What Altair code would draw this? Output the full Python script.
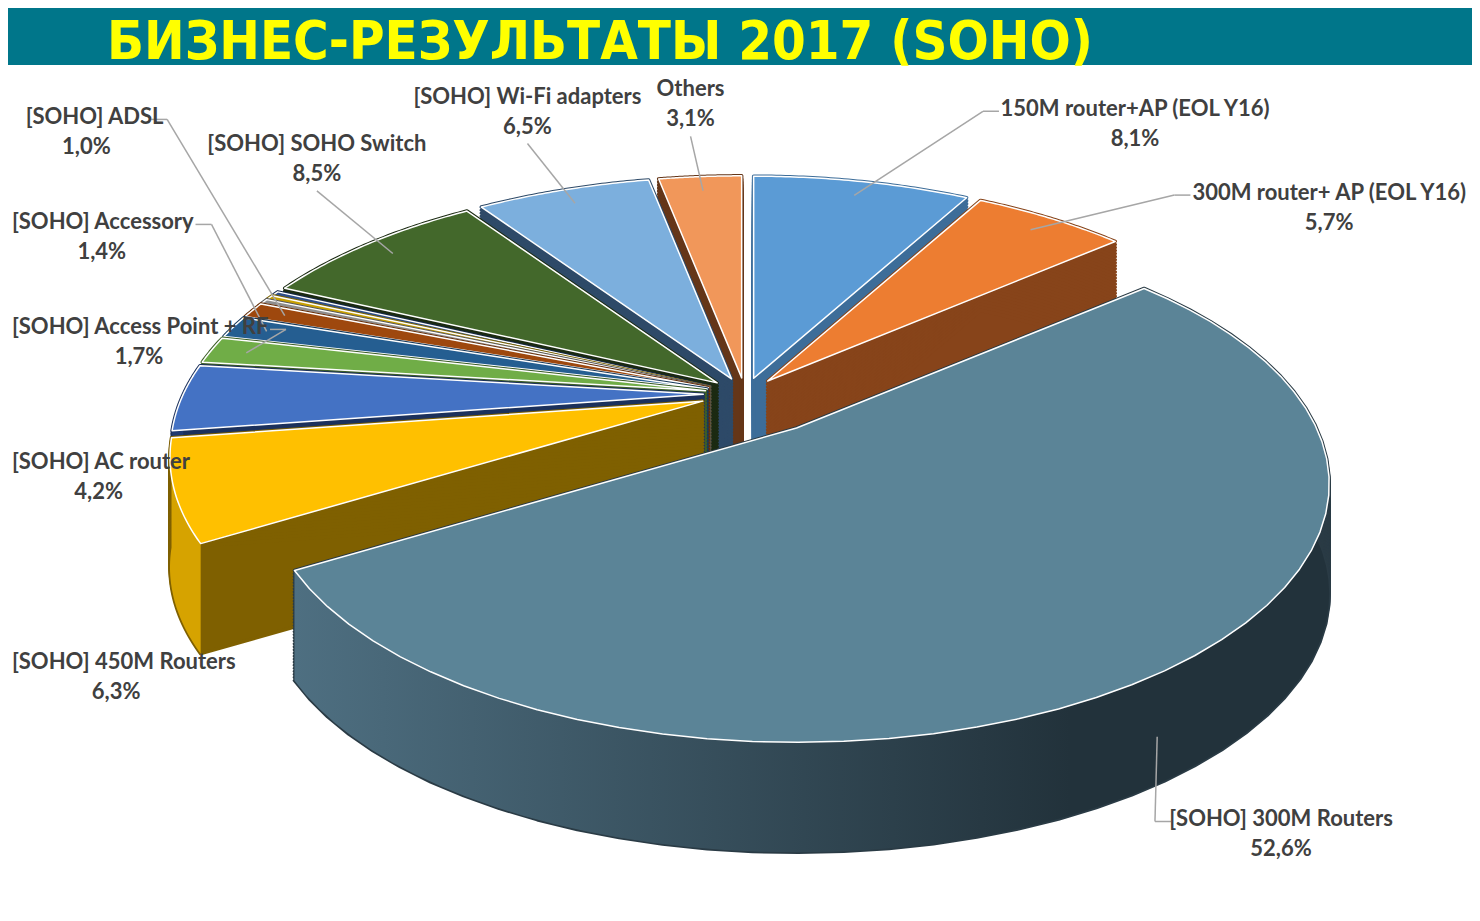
import numpy as np
import pandas as pd
import altair as alt

TITLE = "БИЗНЕС-РЕЗУЛЬТАТЫ 2017 (SOHO)"

names = [
    "150M router+AP (EOL Y16)",
    "300M router+ AP (EOL Y16)",
    "[SOHO] 300M Routers",
    "[SOHO] 450M Routers",
    "[SOHO] AC router",
    "[SOHO] Access Point + RF",
    "[SOHO] Accessory",
    "[SOHO] ADSL",
    "[SOHO] other (a)",
    "[SOHO] other (b)",
    "[SOHO] other (c)",
    "[SOHO] SOHO Switch",
    "[SOHO] Wi-Fi adapters",
    "Others",
]
values = [8.1, 5.7, 52.6, 6.3, 4.2, 1.7, 1.4, 1.0, 0.3, 0.3, 0.3, 8.5, 6.5, 3.1]

top_colors = ["#5B9BD5", "#ED7D31", "#5B8497", "#FFC000", "#4472C4", "#70AD47", "#255E91",
              "#9E480E", "#8E8E8E", "#C8A000", "#2E4E8A", "#43682B", "#7CAFDD", "#F1975A"]
side_colors = ["#3D6D99", "#87441A", "#2A3B45", "#7F6000", "#1C315C", "#3C5E26", "#17395A",
               "#652E09", "#555555", "#7A6200", "#172A4A", "#1B2A12", "#2E4A68", "#653618"]
wall_colors = ["#3D6D99", "#87441A", "#4E6F81", "#D6A300", "#203A70", "#3C5E26", "#17395A",
               "#652E09", "#555555", "#7A6200", "#172A4A", "#1B2A12", "#2E4A68", "#653618"]
WALL_DARK = "#22323B"

# layout constants (page pixel space), perspective ellipse model
W, H = 1464, 905
CX, CY = 745, 394
B, A, P, DEPTH = 520, 246, 0.2174, 110
EX, EXB = 0.08, 0.14
N = 48
LRYF, G = 420, 105
LEFT_X = 8 + 4

df = pd.DataFrame({"name": names, "value": values, "idx": list(range(len(names)))})

xs = alt.Scale(domain=[8, 8 + W], range=[0, W], nice=False, zero=False)
ys = alt.Scale(domain=[8, 8 + H], range=[0, H], nice=False, zero=False)


def X(t, k=1.0):
    return f"(datum.acx + {k}*{B}*sin({t})/(1 + {P}*cos({t})))"


def Y(t, k=1.0):
    return f"(datum.acy - {k}*{A}*cos({t})/(1 + {P}*cos({t})))"


def geom_base():
    return (
        alt.Chart(df)
        .transform_joinaggregate(total="sum(value)")
        .transform_window(cum="sum(value)", sort=[alt.SortField("idx", order="ascending")], frame=[None, 0])
        .transform_calculate(s="2*PI*(datum.cum - datum.value)/datum.total")
        .transform_calculate(e="2*PI*datum.cum/datum.total")
        .transform_calculate(mid="(datum.s + datum.e)/2")
        .transform_calculate(f=f"datum.value > 50 ? {EXB} : {EX}")
        .transform_calculate(acx=f"{CX} + datum.f*{B}*sin(datum.mid)/(1 + {P}*cos(datum.mid))")
        .transform_calculate(acy=f"{CY} - datum.f*{A}*cos(datum.mid)/(1 + {P}*cos(datum.mid))")
    )


def face_data(i):
    return (
        geom_base()
        .transform_filter(f"datum.idx == {i}")
        .transform_calculate(pts=f"sequence(0, {N + 2})")
        .transform_flatten(["pts"])
        .transform_calculate(th=f"datum.s + (datum.e - datum.s)*(datum.pts - 1)/{N}")
        .transform_calculate(px=f"datum.pts == 0 ? datum.acx : {X('datum.th')}")
        .transform_calculate(py=f"datum.pts == 0 ? datum.acy : {Y('datum.th')}")
    )


xenc = alt.X("px:Q", scale=xs, axis=None)

vals = np.array(values)
total = vals.sum()
cum = np.cumsum(vals)
start = cum - vals
s_ang = 2 * np.pi * start / total
e_ang = 2 * np.pi * cum / total
mids = (s_ang + e_ang) / 2
order = np.argsort(-np.cos(mids), kind="stable")

layers = []

# banner with title
banner = alt.Chart(pd.DataFrame({"t": [TITLE]})).mark_rect(color="#00768A").encode(
    x=alt.value(0), x2=alt.value(W), y=alt.value(0), y2=alt.value(57)
)
title = alt.Chart(pd.DataFrame({"t": [TITLE]})).mark_text(
    align="center", baseline="alphabetic",
    font="Liberation Sans Narrow, 'Arial Narrow', 'DejaVu Sans Condensed', 'DejaVu Sans', sans-serif",
    fontSize=54, fontWeight="bold", color="#FFFF00"
).encode(x=alt.value(592), y=alt.value(50.5), text="t:N")
layers += [banner, title]

for i in order:
    i = int(i)
    # extrusion (side faces)
    ext = (
        face_data(i)
        .transform_calculate(zs=f"sequence(0, {DEPTH + 0.5}, {DEPTH / 36})")
        .transform_flatten(["zs"])
        .transform_calculate(pz="datum.py + datum.zs")
        .mark_line(interpolate="linear-closed", fill=side_colors[i], stroke=side_colors[i],
                   strokeWidth=3.5, strokeJoin="round")
        .encode(x=xenc, y=alt.Y("pz:Q", scale=ys, axis=None), order=alt.Order("pts:Q"),
                detail="zs:Q")
    )
    layers.append(ext)
    # front outer wall
    a = max(s_ang[i], np.pi / 2)
    b = min(e_ang[i], 3 * np.pi / 2)
    if a < b:
        if values[i] == max(values):
            wfill = alt.Gradient(gradient="linear", x1=0, x2=1, y1=0, y2=0,
                                 stops=[alt.GradientStop(color=wall_colors[i], offset=0),
                                        alt.GradientStop(color=WALL_DARK, offset=0.75),
                                        alt.GradientStop(color=WALL_DARK, offset=1)])
        else:
            wfill = wall_colors[i]
        wall = (
            geom_base()
            .transform_filter(f"datum.idx == {i}")
            .transform_calculate(a="max(datum.s, PI/2)")
            .transform_calculate(b="min(datum.e, 3*PI/2)")
            .transform_calculate(pts=f"sequence(0, {2 * N + 2})")
            .transform_flatten(["pts"])
            .transform_calculate(th=f"datum.pts <= {N} ? datum.a + (datum.b - datum.a)*datum.pts/{N} : datum.b - (datum.b - datum.a)*(datum.pts - {N + 1})/{N}")
            .transform_calculate(px=X("datum.th"))
            .transform_calculate(py=f"{Y('datum.th')} + (datum.pts <= {N} ? 0 : {DEPTH})")
            .mark_line(interpolate="linear-closed", fill=wfill, strokeWidth=0)
            .encode(x=xenc, y=alt.Y("py:Q", scale=ys, axis=None), order=alt.Order("pts:Q"))
        )
        layers.append(wall)
    top = (
        face_data(i)
        .mark_line(interpolate="linear-closed", fill=top_colors[i], stroke="#FFFFFF",
                   strokeWidth=1.5, strokeJoin="round")
        .encode(x=xenc, y=alt.Y("py:Q", scale=ys, axis=None), order=alt.Order("pts:Q"))
    )
    layers.append(top)

# labels
lab = (
    geom_base()
    .transform_filter("datum.value >= 0.5")
    .transform_calculate(sn="sin(datum.mid)")
    .transform_calculate(cs="cos(datum.mid)")
    .transform_calculate(col="datum.sn < -0.85 ? 1 : 0")
    .transform_calculate(nsp="length(datum.name) - length(replace(datum.name, regexp(' ', 'g'), ''))")
    .transform_calculate(w="(length(datum.name) - datum.nsp)*11.6 + datum.nsp*5.5")
    .transform_calculate(lxr=f"datum.sn > 0 ? max({CX} + 920*datum.sn, {CX + 390}) : (datum.col == 1 ? {CX} + 700*datum.sn : {CX} + 560*datum.sn)")
    .transform_calculate(lx=f"min(max(datum.lxr, {LEFT_X} + datum.w/2), {8 + W - 6} - datum.w/2)")
    .transform_calculate(lxl="datum.lx - datum.w/2")
    .transform_calculate(lryb="datum.col == 1 ? 300 : (datum.sn > 0 ? 90 + 195*datum.cs : 290 + 210*(1 - datum.cs))")
    .transform_calculate(yrad=f"datum.cs > 0 ? {CY} - datum.lryb*datum.cs : {CY} + {LRYF}*(-datum.cs) + {DEPTH}*sqrt(-datum.cs) + (datum.col == 1 ? 65 + 40*(-datum.cs) : 0)")
    .transform_window(rn="row_number()", groupby=["col"], sort=[alt.SortField("mid", order="ascending")])
    .transform_calculate(yk=f"datum.yrad + {G}*(datum.rn - 1)")
    .transform_window(cm="min(yk)", groupby=["col"], sort=[alt.SortField("mid", order="ascending")], frame=[None, 0])
    .transform_calculate(ly=f"datum.col == 1 ? datum.cm - {G}*(datum.rn - 1) : datum.yrad")
    .transform_calculate(ny="datum.ly - 15")
    .transform_calculate(qy="datum.ly + 15")
    .transform_calculate(pct="replace(format(datum.value, '.1f'), '.', ',') + '%'")
)

tstyle = dict(baseline="middle", font="Lato", fontSize=22, fontWeight="bold", color="#404040")

lead = (
    lab.transform_calculate(istop="datum.sn < 0 && datum.col == 0 ? 1 : 0")
    .transform_filter("!(datum.col == 1 && datum.cs < 0)")
    .transform_calculate(ex="datum.istop == 1 ? datum.lx : (datum.sn > 0 ? datum.lx - datum.w/2 - 6 : datum.lx + datum.w/2 + 4)")
    .transform_calculate(ey="datum.istop == 1 ? datum.ly + 32 : datum.ly - 13")
    .transform_calculate(bx="datum.istop == 1 ? datum.ex : (datum.sn > 0 ? datum.ex - 16 : datum.ex + 16)")
    .transform_calculate(psx=f"datum.cs > -0.5 ? {X('datum.mid', 0.93)} : {X('datum.mid', 0.98)}")
    .transform_calculate(psy=f"datum.cs > -0.5 ? {Y('datum.mid', 0.93)} : {Y('datum.mid', 1.0)} + {0.6 * DEPTH}")
)
seg1 = lead.mark_rule(color="#A6A6A6", strokeWidth=1.5).encode(
    x=alt.X("psx:Q", scale=xs, axis=None), y=alt.Y("psy:Q", scale=ys, axis=None),
    x2="bx:Q", y2="ey:Q")
seg2 = lead.mark_rule(color="#A6A6A6", strokeWidth=1.5).encode(
    x=alt.X("bx:Q", scale=xs, axis=None), y=alt.Y("ey:Q", scale=ys, axis=None),
    x2="ex:Q", y2="ey:Q")

names_c = lab.transform_filter("datum.col == 0").mark_text(align="center", **tstyle).encode(
    x=alt.X("lx:Q", scale=xs, axis=None), y=alt.Y("ny:Q", scale=ys, axis=None), text="name:N")
names_l = lab.transform_filter("datum.col == 1").mark_text(align="left", **tstyle).encode(
    x=alt.X("lxl:Q", scale=xs, axis=None), y=alt.Y("ny:Q", scale=ys, axis=None), text="name:N")
pct_t = lab.mark_text(align="center", **tstyle).encode(
    x=alt.X("lx:Q", scale=xs, axis=None), y=alt.Y("qy:Q", scale=ys, axis=None), text="pct:N")

layers += [seg1, seg2, names_c, names_l, pct_t]

chart = alt.layer(*layers).properties(
    width=W, height=H, padding=0, autosize="none", background="#FFFFFF"
).configure_view(stroke=None)

chart.save("out.html", embed_options={"renderer": "svg", "actions": False})
